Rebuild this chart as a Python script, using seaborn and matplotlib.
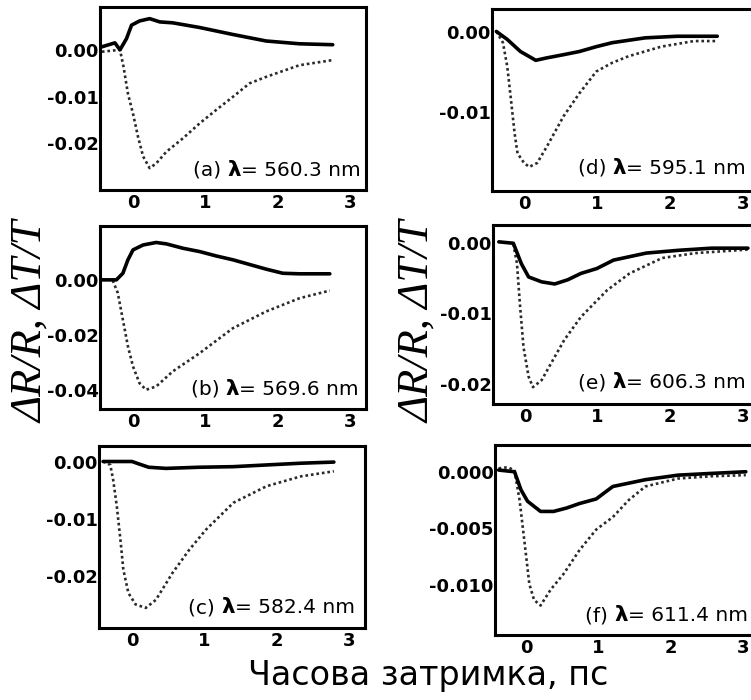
import matplotlib
matplotlib.use("Agg")
import matplotlib.pyplot as plt
import seaborn as sns
from matplotlib.offsetbox import TextArea, HPacker, AnchoredOffsetbox

# ---------------- data ----------------
# panel (a)  lambda = 560.3 nm
t_a_solid = [-0.44, -0.25, -0.18, -0.09, -0.02, 0.09, 0.23, 0.37, 0.55, 0.92, 1.38, 1.84, 2.30, 2.76]
v_a_solid = [0.0007, 0.0016, 0.0001, 0.0025, 0.0054, 0.0063, 0.0068, 0.0061, 0.0059, 0.0049, 0.0034, 0.0020, 0.0014, 0.0012]
t_a_dot = [-0.43, -0.18, -0.13, -0.07, 0.0, 0.07, 0.14, 0.23, 0.32, 0.46, 0.69, 0.92, 1.15, 1.38, 1.61, 1.84, 2.30, 2.76]
v_a_dot = [-0.0003, 0.0001, -0.0036, -0.0093, -0.0136, -0.0186, -0.0228, -0.0253, -0.0243, -0.0218, -0.0189,
           -0.0157, -0.0128, -0.0100, -0.0071, -0.0057, -0.0032, -0.0021]

# panel (b)  lambda = 569.6 nm
t_b_solid = [-0.44, -0.23, -0.14, -0.07, 0.0, 0.14, 0.32, 0.46, 0.69, 0.92, 1.15, 1.38, 1.84, 2.07, 2.30, 2.72]
v_b_solid = [0.0, 0.0, 0.0024, 0.0073, 0.0109, 0.0127, 0.0136, 0.0131, 0.0115, 0.0103, 0.0087, 0.0073, 0.0039,
             0.0024, 0.0022, 0.0022]
t_b_dot = [-0.28, -0.21, -0.14, -0.07, 0.0, 0.09, 0.18, 0.32, 0.55, 0.92, 1.38, 1.84, 2.30, 2.72]
v_b_dot = [-0.0002, -0.0048, -0.0145, -0.0242, -0.0315, -0.0376, -0.0400, -0.0388, -0.0333, -0.0267, -0.0176,
           -0.0115, -0.0067, -0.0039]

# panel (c)  lambda = 582.4 nm
t_c_solid = [-0.40, 0.0, 0.09, 0.23, 0.47, 0.93, 1.40, 1.86, 2.33, 2.79]
v_c_solid = [0.0, 0.0, -0.0004, -0.0010, -0.0012, -0.0010, -0.0009, -0.0006, -0.0003, -0.0001]
t_c_dot = [-0.40, -0.30, -0.26, -0.21, -0.16, -0.12, -0.05, 0.05, 0.19, 0.33, 0.56, 0.79, 1.02, 1.40, 1.86, 2.33, 2.79]
v_c_dot = [0.0, -0.0006, -0.0032, -0.0078, -0.0136, -0.0188, -0.0229, -0.0249, -0.0255, -0.0241, -0.0194,
           -0.0154, -0.0119, -0.0072, -0.0043, -0.0026, -0.0017]

# panel (d)  lambda = 595.1 nm
t_d_solid = [-0.38, -0.23, -0.05, 0.16, 0.31, 0.54, 0.76, 0.99, 1.21, 1.66, 2.10, 2.65]
v_d_solid = [0.0001, -0.0009, -0.0024, -0.0035, -0.0032, -0.0028, -0.0024, -0.0018, -0.0013, -0.0007, -0.0005, -0.0005]
t_d_dot = [-0.38, -0.29, -0.23, -0.18, -0.13, -0.09, 0.0, 0.07, 0.18, 0.31, 0.54, 0.76, 0.99, 1.21, 1.43, 1.88, 2.33, 2.65]
v_d_dot = [0.0001, -0.0013, -0.0043, -0.0084, -0.0126, -0.0151, -0.0163, -0.0168, -0.0163, -0.0143, -0.0105,
           -0.0076, -0.0049, -0.0038, -0.0030, -0.0018, -0.0011, -0.0011]

# panel (e)  lambda = 606.3 nm
t_e_solid = [-0.36, -0.16, -0.05, 0.05, 0.23, 0.41, 0.59, 0.77, 0.99, 1.22, 1.67, 2.12, 2.57, 3.07]
v_e_solid = [0.0002, 0.0, -0.0029, -0.0048, -0.0055, -0.0058, -0.0052, -0.0043, -0.0036, -0.0024, -0.0014,
             -0.0010, -0.0007, -0.0007]
t_e_dot = [-0.16, -0.11, -0.07, -0.02, 0.05, 0.11, 0.23, 0.36, 0.54, 0.77, 1.13, 1.44, 1.89, 2.35, 3.07]
v_e_dot = [-0.0001, -0.0029, -0.0086, -0.0148, -0.0190, -0.0205, -0.0195, -0.0171, -0.0138, -0.0105, -0.0067,
           -0.0043, -0.0021, -0.0014, -0.0009]

# panel (f)  lambda = 611.4 nm
t_f_solid = [-0.38, -0.16, -0.07, 0.02, 0.20, 0.38, 0.56, 0.74, 0.97, 1.20, 1.65, 2.10, 2.55, 3.04]
v_f_solid = [0.00015, 0.0, -0.0016, -0.0026, -0.0035, -0.0035, -0.0032, -0.0028, -0.0024, -0.0013, -0.0007,
             -0.0003, -0.00015, 0.0]
t_f_dot = [-0.38, -0.25, -0.16, -0.09, -0.02, 0.045, 0.11, 0.20, 0.34, 0.52, 0.74, 0.97, 1.20, 1.42, 1.65, 2.10, 2.55, 3.04]
v_f_dot = [0.0003, 0.0004, 0.0001, -0.0025, -0.0063, -0.0099, -0.0113, -0.0118, -0.0104, -0.0090, -0.0069,
           -0.0051, -0.0040, -0.0025, -0.0013, -0.0006, -0.0004, -0.0003]

tags = ["a", "b", "c", "d", "e", "f"]
wavelengths = ["560.3", "569.6", "582.4", "595.1", "606.3", "611.4"]
x_ticks = [0, 1, 2, 3]
y_ticks = {
    "a": [0.0, -0.01, -0.02], "b": [0.0, -0.02, -0.04], "c": [0.0, -0.01, -0.02],
    "d": [0.0, -0.01], "e": [0.0, -0.01, -0.02], "f": [0.0, -0.005, -0.010],
}
y_ticklabels = {
    "a": ["0.00", "-0.01", "-0.02"], "b": ["0.00", "-0.02", "-0.04"], "c": ["0.00", "-0.01", "-0.02"],
    "d": ["0.00", "-0.01"], "e": ["0.00", "-0.01", "-0.02"], "f": ["0.000", "-0.005", "-0.010"],
}
series = {
    "a": (t_a_solid, v_a_solid, t_a_dot, v_a_dot),
    "b": (t_b_solid, v_b_solid, t_b_dot, v_b_dot),
    "c": (t_c_solid, v_c_solid, t_c_dot, v_c_dot),
    "d": (t_d_solid, v_d_solid, t_d_dot, v_d_dot),
    "e": (t_e_solid, v_e_solid, t_e_dot, v_e_dot),
    "f": (t_f_solid, v_f_solid, t_f_dot, v_f_dot),
}
x_label = "Часова затримка, пс"
y_label = "ΔR/R, ΔT/T"

# ---------------- layout (pixels) ----------------
sns.set_theme(style="white")
plt.rcParams['font.family'] = ['DejaVu Sans']

W, H = 751, 700
fig = plt.figure(figsize=(W / 100, H / 100), dpi=100)

# x0, top, x1, bottom in pixels; xlim; ylim; annotation anchor (right, bottom) in px
layout = {
    "a": ((100, 7, 366, 190), (-0.456, 3.22), (-0.0300, 0.0093), (361, 180)),
    "b": ((100, 226, 366, 409), (-0.456, 3.22), (-0.0470, 0.0196), (359, 399)),
    "c": ((99, 446, 365, 628), (-0.456, 3.22), (-0.0290, 0.0027), (355, 617)),
    "d": ((492, 9, 761, 191), (-0.44, 3.25), (-0.0198, 0.0029), (746, 178)),
    "e": ((493, 225, 761, 404), (-0.44, 3.25), (-0.0229, 0.0026), (746, 392)),
    "f": ((495, 445, 761, 635), (-0.43, 3.25), (-0.0144, 0.00236), (748, 625)),
}

for tag, wl in zip(tags, wavelengths):
    (x0, top, x1, bottom), xlim, ylim, (ax_r, ax_b) = layout[tag]
    ax = fig.add_axes([x0 / W, 1 - bottom / H, (x1 - x0) / W, (bottom - top) / H])
    ts, vs, td, vd = series[tag]
    sns.lineplot(x=td, y=vd, ax=ax, color="#2a2a2a", linewidth=1.9, linestyle=(0, (1, 1.1)), sort=False)
    sns.lineplot(x=ts, y=vs, ax=ax, color="black", linewidth=2.6, sort=False)
    ax.set_xlim(*xlim)
    ax.set_ylim(*ylim)
    ax.set_xticks(x_ticks, [str(v) for v in x_ticks], fontweight="bold", fontsize=13)
    ax.set_yticks(y_ticks[tag], y_ticklabels[tag], fontweight="bold", fontsize=13)
    ax.tick_params(axis="x", direction="in", length=4, width=1.6, pad=3, colors="black")
    ax.tick_params(axis="y", length=0, pad=1, colors="black")
    ax.set_xlabel("")
    ax.set_ylabel("")
    for sp in ax.spines.values():
        sp.set_linewidth(2.2)
        sp.set_color("black")

    ta1 = TextArea(f"({tag}) ", textprops=dict(fontsize=14.5, color="black"))
    ta2 = TextArea("λ", textprops=dict(fontsize=15.5, fontweight="bold", color="black"))
    ta3 = TextArea(f"= {wl} nm", textprops=dict(fontsize=14.5, color="black"))
    box = HPacker(children=[ta1, ta2, ta3], align="baseline", pad=0, sep=0)
    anch = AnchoredOffsetbox(loc="lower right", child=box, pad=0, borderpad=0, frameon=False,
                             bbox_to_anchor=(ax_r / W, 1 - ax_b / H), bbox_transform=fig.transFigure)
    ax.add_artist(anch)

for xc in (31, 418):
    fig.text(xc / W, 1 - 322 / H, y_label, rotation=90, ha="center", va="center",
             fontsize=32, family="Liberation Serif", style="italic", color="black")

fig.text(428 / W, 1 - 685 / H, x_label, ha="center", va="baseline", fontsize=24,
         family="DejaVu Sans", color="black")

fig.savefig("out.png", dpi=100)
